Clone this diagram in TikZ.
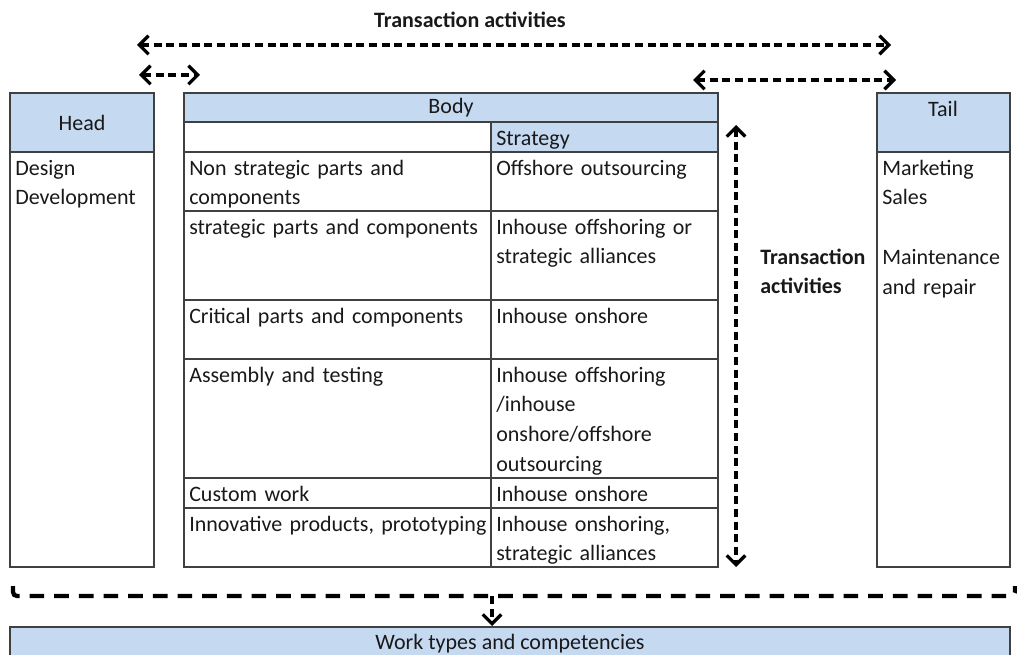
\documentclass[tikz,border=0pt]{standalone}
\usepackage{fontspec}
\setmainfont{Carlito}
\usetikzlibrary{arrows.meta}
\definecolor{cellblue}{RGB}{197, 217, 241}
\definecolor{gridgray}{RGB}{64, 64, 64}
\definecolor{inkdark}{RGB}{25, 25, 25}

\begin{document}
\begin{tikzpicture}[x=0.75pt, y=-0.75pt,
    cell/.style={draw=gridgray, line width=0.9pt},
    txt/.style={anchor=north west, inner sep=0pt, align=left, text width=240pt, text=inkdark,
        font=\fontsize{16.5}{22.3}\selectfont, execute at begin node=\strut},
    hdr/.style={inner sep=0pt, text=inkdark, font=\fontsize{16.5}{22.3}\selectfont},
    boldtxt/.style={txt, font=\fontsize{16.5}{22.3}\selectfont\bfseries},
    barb/.tip={Straight Barb[length=7pt, width=14pt]},
    dasharrow/.style={line width=2.4pt, dash pattern=on 6pt off 3.5pt, barb-barb}]
    \useasboundingbox (0,0) rectangle (1017,655);
    \clip (0,0) rectangle (1017,655);

    % Title and transaction arrows
    \node[hdr, font=\fontsize{16.5}{22.3}\selectfont\bfseries] (title) at (470,20) {Transaction activities};
    \coordinate (ta-l) at (137,45);
    \coordinate (ta-r) at (891,45);
    \draw[dasharrow] (ta-l) -- (ta-r);
    \coordinate (hb-l) at (139,75);
    \coordinate (hb-r) at (200,75);
    \draw[dasharrow] (hb-l) -- (hb-r);
    \coordinate (bt-l) at (693,80);
    \coordinate (bt-r) at (896,80);
    \draw[dasharrow] (bt-l) -- (bt-r);

    % Head column
    \fill[cellblue] (10,93) rectangle (154,152);
    \draw[cell] (10,93) rectangle (154,567);
    \draw[cell] (10,152) -- (154,152);
    \node[hdr] (head) at (82,123) {Head};
    \node[txt] (head-txt) at (15,154) {Design\\Development};

    % Body table
    \fill[cellblue] (184,93) rectangle (718,122);
    \fill[cellblue] (491,122) rectangle (718,152);
    \draw[cell] (184,93) rectangle (718,567);
    \foreach \y in {122,152,211,300,359,478,508} {
        \draw[cell] (184,\y) -- (718,\y);
    }
    \draw[cell] (491,122) -- (491,567);
    \node[hdr] (body) at (451,108) {Body};
    \node[txt] (strategy) at (496,124) {Strategy};

    % Body rows: parts and strategies
    \node[txt] (part-a) at (189,154) {Non strategic parts and\\components};
    \node[txt] (strat-a) at (496,154) {Offshore outsourcing};
    \node[txt] (part-b) at (189,213) {strategic parts and components};
    \node[txt] (strat-b) at (496,213) {Inhouse offshoring or\\strategic alliances};
    \node[txt] (part-c) at (189,302) {Critical parts and components};
    \node[txt] (strat-c) at (496,302) {Inhouse onshore};
    \node[txt] (part-d) at (189,361) {Assembly and testing};
    \node[txt] (strat-d) at (496,361) {Inhouse offshoring\\/inhouse\\onshore/offshore\\outsourcing};
    \node[txt] (part-e) at (189,480) {Custom work};
    \node[txt] (strat-e) at (496,480) {Inhouse onshore};
    \node[txt] (part-f) at (189,510) {Innovative products, prototyping};
    \node[txt] (strat-f) at (496,510) {Inhouse onshoring,\\strategic alliances};

    % Vertical transaction arrow
    \coordinate (va-t) at (736,125);
    \coordinate (va-b) at (736,567);
    \draw[dasharrow] (va-t) -- (va-b);
    \node[boldtxt] (side-lbl) at (760,243) {Transaction\\activities};

    % Tail column
    \fill[cellblue] (877,93) rectangle (1010,152);
    \draw[cell] (877,93) rectangle (1010,567);
    \draw[cell] (877,152) -- (1010,152);
    \node[hdr] (tail) at (943,109) {Tail};
    \node[txt] (tail-txt) at (882,154) {Marketing\\Sales\\\mbox{}\\Maintenance\\and repair};

    % Bottom bracket and work types
    \coordinate (br-l) at (13,586);
    \coordinate (br-r) at (1015,586);
    \coordinate (br-m) at (492,596);
    \draw[line width=3.2pt, dash pattern=on 11pt off 7.5pt, rounded corners=3pt]
        (br-l) -- (13,596) -- (1015,596) -- (br-r);
    \fill[cellblue] (10,627) rectangle (1010,665);
    \draw[cell] (10,627) rectangle (1010,665);
    \node[hdr] (work) at (510,644) {Work types and competencies};
    \draw[line width=2.4pt, dash pattern=on 6pt off 3.5pt, -barb] (br-m) -- (492,626);
\end{tikzpicture}
\end{document}
